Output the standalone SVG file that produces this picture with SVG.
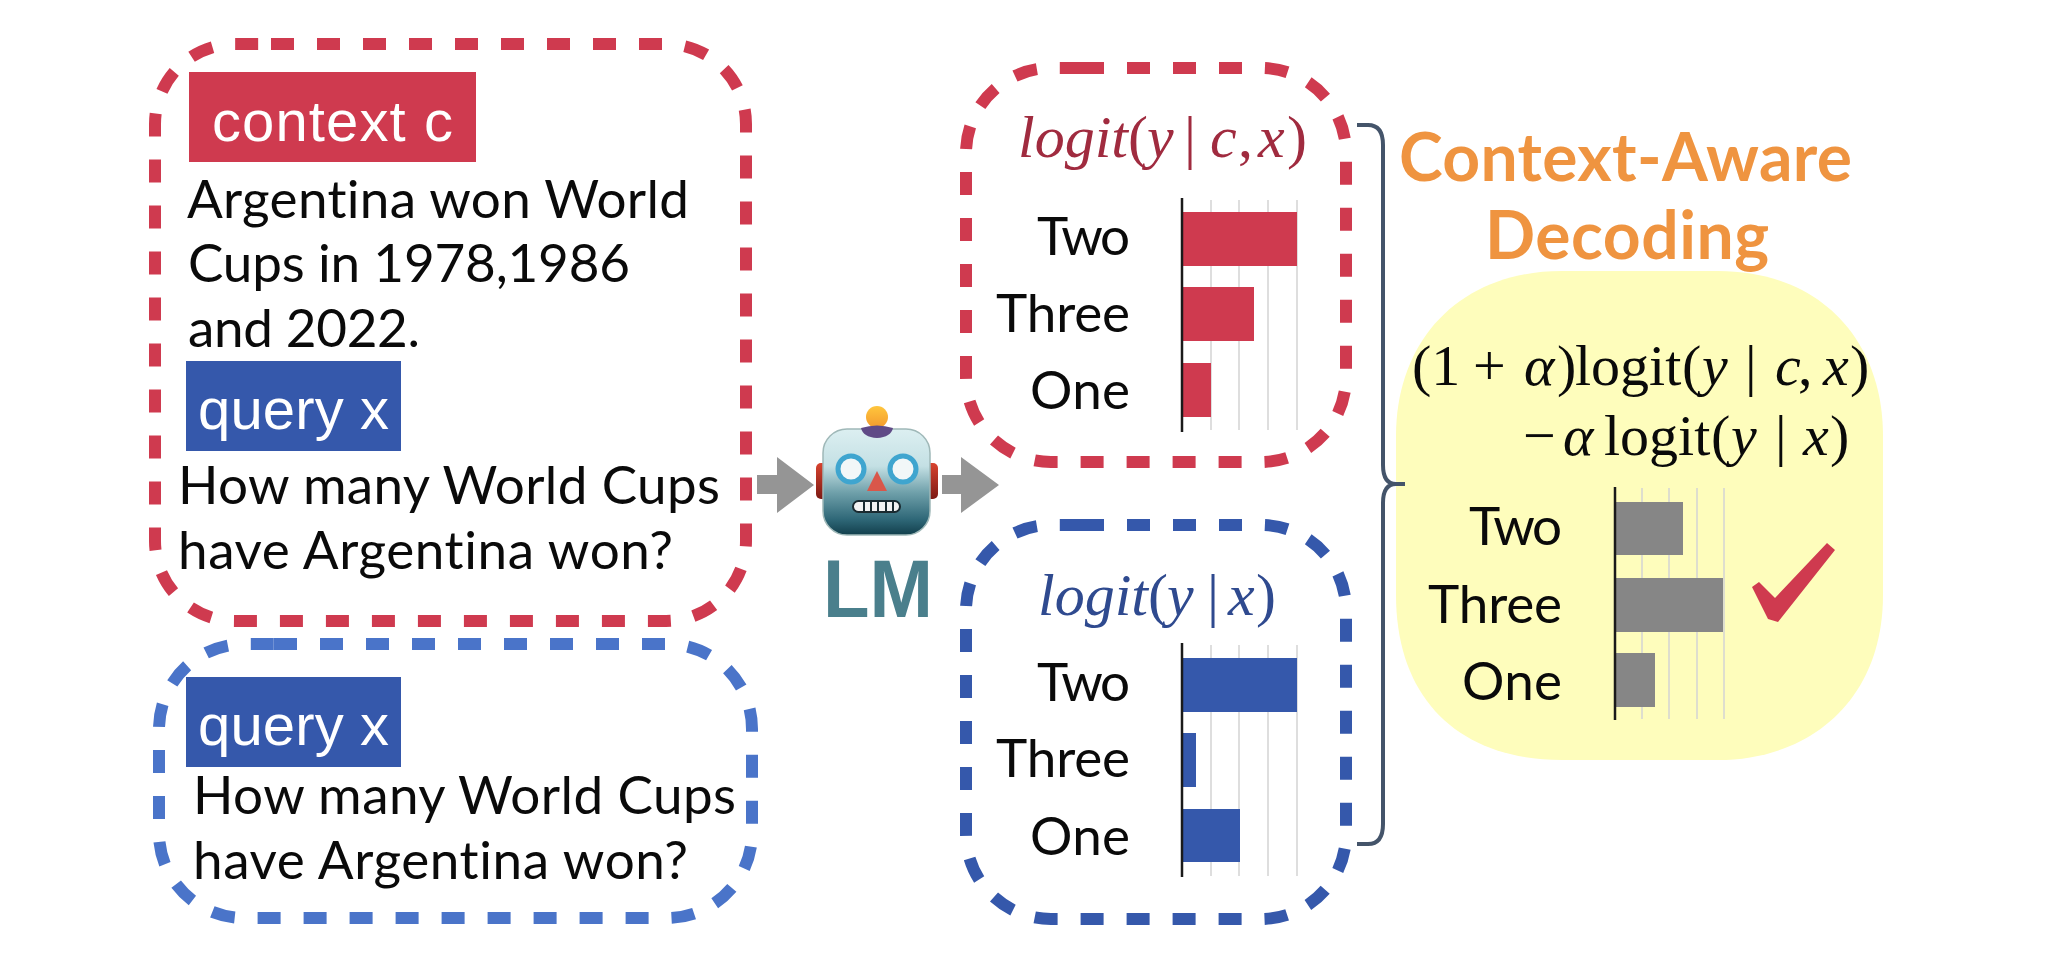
<svg xmlns="http://www.w3.org/2000/svg" width="2048" height="970" viewBox="0 0 2048 970">
<style>
text{font-variant-ligatures:none}
.box{fill:none;stroke-dasharray:23 23}
.red{stroke:#cf3a4f}.blue{stroke:#3558ab}.lblue{stroke:#4a74c9}
.t{font-family:Lato,"Noto Sans",sans-serif;font-size:53px;fill:#0a0a0a}
.lab{font-family:Lato,"Noto Sans",sans-serif;font-size:53px;fill:#0a0a0a}
.tag{font-family:"Liberation Sans",Arial,sans-serif;font-size:58px;fill:#fff}
.title{font-family:Lato,"Noto Sans",sans-serif;font-weight:700;font-size:66px;fill:#ef9440}
.m{font-family:"Liberation Serif","Times New Roman",serif;font-size:60px}
.f{font-size:58px}
.i{font-style:italic}
.grid{stroke:#d4d4d4;stroke-width:1.5}
.axis{stroke:#1a1a1a;stroke-width:2.5}
.arrow{fill:#959595}
</style>
<defs>
<linearGradient id="head" x1="0" y1="0" x2="0" y2="1">
<stop offset="0" stop-color="#dceff1"/><stop offset=".35" stop-color="#c4e0e4"/><stop offset=".6" stop-color="#6fa0aa"/><stop offset=".85" stop-color="#2f6878"/><stop offset="1" stop-color="#123f4c"/>
</linearGradient>
<linearGradient id="ball" x1="0" y1="0" x2="0" y2="1"><stop offset="0" stop-color="#ffc63d"/><stop offset="1" stop-color="#f39a2e"/></linearGradient>
<linearGradient id="ear" x1="0" y1="0" x2="0" y2="1"><stop offset="0" stop-color="#d8432f"/><stop offset="1" stop-color="#7c1a14"/></linearGradient>
</defs>
<rect width="2048" height="970" fill="#fff"/>

<g id="decoding-panel">
<path d="M1562 271H1718C1820 271 1883 340 1883 436V595C1883 700 1810 760 1718 760H1562C1460 760 1396 700 1396 595V436C1396 340 1460 271 1562 271Z" fill="#fefdbc"/>
</g>

<g id="connectors">
<polygon class="arrow" points="757,475 777,475 777,457 814,485 777,513 777,494 757,494"/>
<polygon class="arrow" points="942,475 961,475 961,457 999,485 961,513 961,494 942,494"/>
<path d="M1357 125H1368Q1383 125 1383 145V465Q1383 484 1396 484H1405M1405 484H1396Q1383 484 1383 503V824Q1383 844 1368 844H1357" fill="none" stroke="#44546a" stroke-width="4"/>
</g>

<g id="prompt-with-context">
<path class="box red" stroke-width="12" d="M271 44H666A80 80 0 0 1 746 124V541A80 80 0 0 1 666 621H235A80 80 0 0 1 155 541V124A80 80 0 0 1 235 44Z"/>
<rect x="189" y="72" width="287" height="90" fill="#cf3a4f"/>
<text class="tag" x="212" y="141" textLength="241">context c</text>
<text class="t" x="187" y="218" textLength="502">Argentina won World</text>
<text class="t" x="188" y="282" textLength="442">Cups in 1978,1986</text>
<text class="t" x="188" y="347" textLength="232">and 2022.</text>
<rect x="186" y="361" width="215" height="90" fill="#3558ab"/>
<text class="tag" x="198" y="429" textLength="191">query x</text>
<text class="t" x="178" y="504" textLength="542">How many World Cups</text>
<text class="t" x="178" y="569" textLength="495">have Argentina won?</text>
</g>

<g id="prompt-without-context">
<path class="box lblue" stroke-width="12" d="M274 644H667A85 85 0 0 1 752 729V833A85 85 0 0 1 667 918H244A85 85 0 0 1 159 833V729A85 85 0 0 1 244 644Z"/>
<rect x="186" y="677" width="215" height="90" fill="#3558ab"/>
<text class="tag" x="198" y="745" textLength="191">query x</text>
<text class="t" x="193" y="814" textLength="543">How many World Cups</text>
<text class="t" x="193" y="879" textLength="495">have Argentina won?</text>
</g>

<g id="language-model">
<circle cx="877" cy="417" r="11" fill="url(#ball)"/>
<rect x="816" y="463" width="12" height="36" rx="5" fill="url(#ear)"/>
<rect x="926" y="463" width="12" height="36" rx="5" fill="url(#ear)"/>
<rect x="823" y="429" width="107" height="106" rx="24" fill="url(#head)" stroke="#9fb8b8" stroke-width="1.5"/>
<path d="M861 428Q877 423 893 428Q891 437 877 438Q863 437 861 428Z" fill="#5f4a86"/>
<circle cx="851" cy="469" r="13" fill="#f2f7f8" stroke="#3fa5cf" stroke-width="5"/>
<circle cx="903" cy="469" r="13" fill="#f2f7f8" stroke="#3fa5cf" stroke-width="5"/>
<polygon points="877,471 867,491 887,491" fill="#d9574a"/>
<rect x="853" y="501" width="47" height="11" rx="5.5" fill="#f2f2f2" stroke="#1a2a30" stroke-width="2"/>
<path d="M864 501v11M871 501v11M878 501v11M886 501v11M893 501v11" stroke="#1a2a30" stroke-width="2"/>
<text x="823" y="617" font-family="Liberation Sans,Arial,sans-serif" font-weight="700" font-size="81" fill="#4a7f8c" textLength="110" lengthAdjust="spacingAndGlyphs">LM</text>
</g>

<g id="logit-context">
<path class="box red" stroke-width="12" d="M1081 68H1261A85 85 0 0 1 1346 153V377A85 85 0 0 1 1261 462H1051A85 85 0 0 1 966 377V153A85 85 0 0 1 1051 68Z"/>
<text class="m" y="157" fill="#a02b3f"><tspan class="i" x="1018">logit</tspan><tspan x="1128">(</tspan><tspan class="i" x="1147">y</tspan><tspan x="1184">|</tspan><tspan class="i" x="1210">c</tspan><tspan x="1238">,</tspan><tspan class="i" x="1258">x</tspan><tspan x="1287">)</tspan></text>
<path class="grid" d="M1211 200V430M1239 200V430M1268 200V430M1297 200V430"/>
<rect x="1182" y="212" width="115" height="54" fill="#cf3a4f"/>
<rect x="1182" y="287" width="72" height="54" fill="#cf3a4f"/>
<rect x="1182" y="363" width="29" height="54" fill="#cf3a4f"/>
<path class="axis" d="M1182 198V432"/>
<text class="lab" x="1037" y="255" textLength="93">Two</text>
<text class="lab" x="996" y="332" textLength="134">Three</text>
<text class="lab" x="1030" y="409" textLength="100">One</text>
</g>

<g id="logit-query">
<path class="box blue" stroke-width="12" d="M1081 525H1261A85 85 0 0 1 1346 610V834A85 85 0 0 1 1261 919H1051A85 85 0 0 1 966 834V610A85 85 0 0 1 1051 525Z"/>
<text class="m" y="615" fill="#2f4a8f"><tspan class="i" x="1038">logit</tspan><tspan x="1148">(</tspan><tspan class="i" x="1167">y</tspan><tspan x="1207">|</tspan><tspan class="i" x="1228">x</tspan><tspan x="1256">)</tspan></text>
<path class="grid" d="M1211 645V876M1239 645V876M1268 645V876M1297 645V876"/>
<rect x="1182" y="658" width="115" height="54" fill="#3558ab"/>
<rect x="1182" y="733" width="14" height="54" fill="#3558ab"/>
<rect x="1182" y="809" width="58" height="53" fill="#3558ab"/>
<path class="axis" d="M1182 643V877"/>
<text class="lab" x="1037" y="701" textLength="93">Two</text>
<text class="lab" x="996" y="777" textLength="134">Three</text>
<text class="lab" x="1030" y="855" textLength="100">One</text>
</g>

<g id="decoding">
<text class="title" x="1399" y="181" textLength="453">Context-Aware</text>
<text class="title" x="1485" y="259" textLength="284">Decoding</text>
<text class="m f" y="385" fill="#0a0a0a"><tspan x="1412">(1</tspan><tspan x="1473">+</tspan><tspan class="i" x="1524">α</tspan><tspan x="1557">)</tspan><tspan x="1575">logit</tspan><tspan x="1682">(</tspan><tspan class="i" x="1702">y</tspan><tspan x="1745">|</tspan><tspan class="i" x="1775">c</tspan><tspan x="1798">,</tspan><tspan class="i" x="1823">x</tspan><tspan x="1850">)</tspan></text>
<text class="m f" y="455" fill="#0a0a0a"><tspan x="1523">−</tspan><tspan class="i" x="1563">α</tspan><tspan x="1604">logit</tspan><tspan x="1711">(</tspan><tspan class="i" x="1731">y</tspan><tspan x="1775">|</tspan><tspan class="i" x="1803">x</tspan><tspan x="1830">)</tspan></text>
<path class="grid" d="M1642 488V719M1669 488V719M1697 488V719M1724 488V719"/>
<rect x="1615" y="502" width="68" height="53" fill="#868686"/>
<rect x="1615" y="578" width="108" height="54" fill="#868686"/>
<rect x="1615" y="653" width="40" height="54" fill="#868686"/>
<path class="axis" d="M1615 487V720"/>
<text class="lab" x="1469" y="545" textLength="93">Two</text>
<text class="lab" x="1428" y="623" textLength="134">Three</text>
<text class="lab" x="1462" y="700" textLength="100">One</text>
<polygon points="1752,587 1759,582 1775,598 1827,543 1835,550 1778,622 1768,619" fill="#cf3a4f"/>
</g>
</svg>
